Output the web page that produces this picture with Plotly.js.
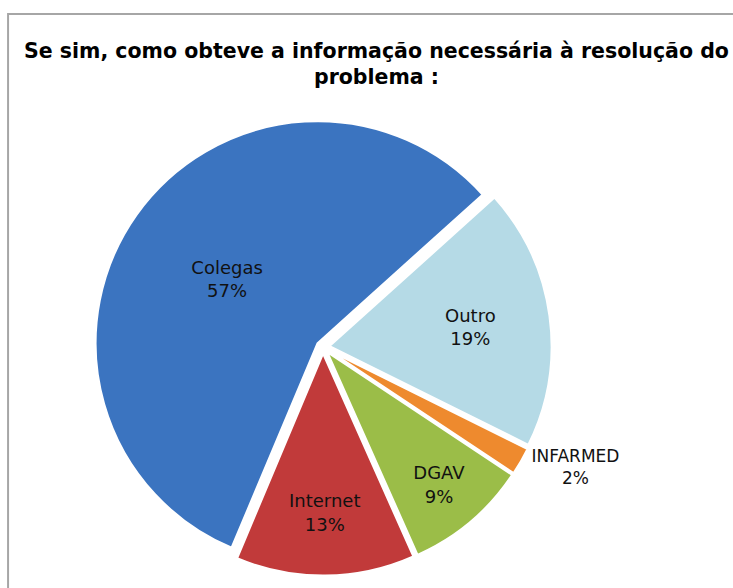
<!DOCTYPE html>
<html>
<head>
<meta charset="utf-8">
<script src="https://cdn.plot.ly/plotly-3.0.1.min.js"></script>
<style>html,body{margin:0;padding:0;background:#fff;}#chart{width:733px;height:588px;}</style>
</head>
<body>
<div id="chart"></div>
<script>
const categories = ["Outro", "INFARMED", "DGAV", "Internet", "Colegas"];
const values = [19, 2, 9, 13, 57];
const colors = ["#b5dae6", "#ee8a2e", "#9bbd48", "#c13a3a", "#3b74c0"];
const titleText = "Se sim, como obteve a informação necessária à resolução do<br>problema :";

const trace = {
  type: "pie",
  labels: categories,
  values: values,
  sort: false,
  direction: "clockwise",
  rotation: 48,
  pull: [0.03, 0.03, 0.03, 0.03, 0.03],
  marker: { colors: colors, line: { color: "#ffffff", width: 2 } },
  texttemplate: "%{label}<br>%{percent:.0%}",
  textposition: ["inside", "outside", "inside", "inside", "inside"],
  insidetextorientation: "horizontal",
  textfont: { family: "DejaVu Sans, sans-serif", size: 18, color: "#111111" },
  outsidetextfont: { family: "DejaVu Sans, sans-serif", size: 17, color: "#111111" },
  hoverinfo: "label+percent",
  showlegend: false,
  domain: { x: [0.1288, 0.7525], y: [0.0211, 0.7986] }
};

const layout = {
  width: 733,
  height: 588,
  margin: { l: 0, r: 0, t: 0, b: 0 },
  paper_bgcolor: "#ffffff",
  title: {
    text: titleText,
    x: 0.5136,
    xanchor: "center",
    y: 0.902,
    yanchor: "top",
    font: { family: "DejaVu Sans, sans-serif", size: 20.5, color: "#000000", weight: "bold" }
  },
  shapes: [
    { type: "rect", xref: "paper", yref: "paper", x0: 0.011, x1: 1.05, y0: -0.05, y1: 0.976,
      line: { color: "#a6a6a6", width: 2 }, fillcolor: "rgba(0,0,0,0)", layer: "below" }
  ]
};

Plotly.newPlot("chart", [trace], layout, { displayModeBar: false, staticPlot: true });
</script>
</body>
</html>
